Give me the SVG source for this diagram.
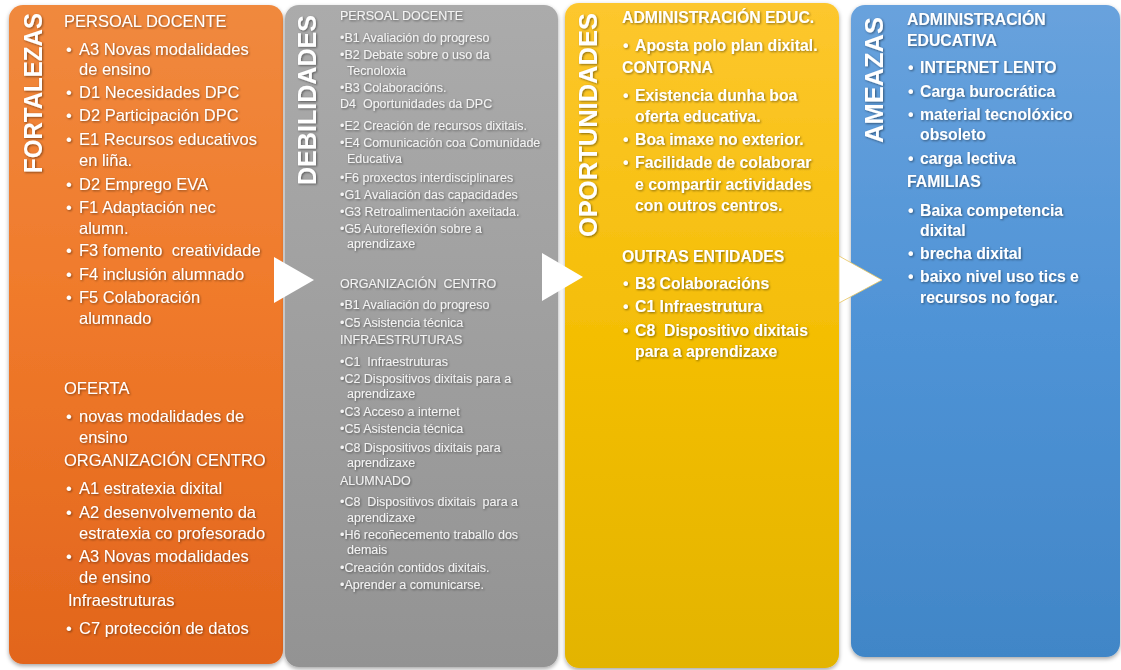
<svg xmlns="http://www.w3.org/2000/svg" width="1121" height="670" viewBox="0 0 1121 670">
<defs>
<linearGradient id="gOrange" x1="0" y1="0" x2="0" y2="1"><stop offset="0" stop-color="#F0893E"/><stop offset="0.45" stop-color="#F07A2B"/><stop offset="1" stop-color="#E2651C"/></linearGradient>
<linearGradient id="gGrey" x1="0" y1="0" x2="0" y2="1"><stop offset="0" stop-color="#ABABAB"/><stop offset="1" stop-color="#939393"/></linearGradient>
<linearGradient id="gYellow" x1="0" y1="0" x2="0" y2="1"><stop offset="0" stop-color="#FDC72E"/><stop offset="0.5" stop-color="#F4BE05"/><stop offset="1" stop-color="#E3B401"/></linearGradient>
<linearGradient id="gBlue" x1="0" y1="0" x2="0" y2="1"><stop offset="0" stop-color="#68A2DD"/><stop offset="0.5" stop-color="#4F93D6"/><stop offset="1" stop-color="#4186C7"/></linearGradient>
<filter id="boxShadow" x="-5%" y="-5%" width="110%" height="110%"><feDropShadow dx="0" dy="2" stdDeviation="2" flood-color="#000" flood-opacity="0.35"/></filter>
<filter id="txtShadow" x="-5%" y="-5%" width="110%" height="110%"><feDropShadow dx="1" dy="1" stdDeviation="0.9" flood-color="#000" flood-opacity="0.45"/></filter>
<style>
.box{filter:url(#boxShadow)}
.t{font-family:"Liberation Sans",Arial,sans-serif;fill:#fff}
.title{font-size:26px;font-weight:bold}
.c1{font-size:16.5px}
.c2{font-size:12.5px;fill:#f3f3f3}
.c34{font-size:15.8px;font-weight:bold}
.sh{filter:url(#txtShadow)}
.arrow{fill:#fff}
</style>
</defs>

<g id="fortalezas">
<rect class="box" x="9" y="5" width="274" height="659" rx="14" fill="url(#gOrange)"/>
<g class="sh">
<text class="t title" transform="translate(42,173) rotate(-90)" textLength="160" lengthAdjust="spacingAndGlyphs">FORTALEZAS</text>
<g class="t c1">
<text x="64" y="27">PERSOAL DOCENTE</text>
<text x="66" y="55">•</text><text x="79" y="55">A3 Novas modalidades</text>
<text x="79" y="75">de ensino</text>
<text x="66" y="98">•</text><text x="79" y="98">D1 Necesidades DPC</text>
<text x="66" y="121">•</text><text x="79" y="121">D2 Participación DPC</text>
<text x="66" y="145">•</text><text x="79" y="145">E1 Recursos educativos</text>
<text x="79" y="166">en liña.</text>
<text x="66" y="190">•</text><text x="79" y="190">D2 Emprego EVA</text>
<text x="66" y="213">•</text><text x="79" y="213">F1 Adaptación nec</text>
<text x="79" y="234">alumn.</text>
<text x="66" y="256">•</text><text x="79" y="256" xml:space="preserve">F3 fomento  creatividade</text>
<text x="66" y="280">•</text><text x="79" y="280">F4 inclusión alumnado</text>
<text x="66" y="303">•</text><text x="79" y="303">F5 Colaboración</text>
<text x="79" y="324">alumnado</text>
<text x="64" y="394">OFERTA</text>
<text x="66" y="422">•</text><text x="79" y="422">novas modalidades de</text>
<text x="79" y="443">ensino</text>
<text x="64" y="466">ORGANIZACIÓN CENTRO</text>
<text x="66" y="494">•</text><text x="79" y="494">A1 estratexia dixital</text>
<text x="66" y="518">•</text><text x="79" y="518">A2 desenvolvemento da</text>
<text x="79" y="539">estratexia co profesorado</text>
<text x="66" y="562">•</text><text x="79" y="562">A3 Novas modalidades</text>
<text x="79" y="583">de ensino</text>
<text x="68" y="606">Infraestruturas</text>
<text x="66" y="634">•</text><text x="79" y="634">C7 protección de datos</text>
</g>
</g>
</g>

<g id="debilidades">
<rect class="box" x="285" y="5" width="273" height="662" rx="14" fill="url(#gGrey)"/>
<g class="sh">
<text class="t title" transform="translate(316,185) rotate(-90)" textLength="170" lengthAdjust="spacingAndGlyphs" style="font-size:25px">DEBILIDADES</text>
<g class="t c2">
<text x="340" y="20">PERSOAL DOCENTE</text>
<text x="340" y="42">•B1 Avaliación do progreso</text>
<text x="340" y="59">•B2 Debate sobre o uso da</text>
<text x="347" y="75">Tecnoloxia</text>
<text x="340" y="92">•B3 Colaboracións.</text>
<text x="340" y="108" xml:space="preserve">D4  Oportunidades da DPC</text>
<text x="340" y="130">•E2 Creación de recursos dixitais.</text>
<text x="340" y="147">•E4 Comunicación coa Comunidade</text>
<text x="347" y="163">Educativa</text>
<text x="340" y="182">•F6 proxectos interdisciplinares</text>
<text x="340" y="199">•G1 Avaliación das capacidades</text>
<text x="340" y="216">•G3 Retroalimentación axeitada.</text>
<text x="340" y="233">•G5 Autoreflexión sobre a</text>
<text x="347" y="248">aprendizaxe</text>
<text x="340" y="288" xml:space="preserve">ORGANIZACIÓN  CENTRO</text>
<text x="340" y="309">•B1 Avaliación do progreso</text>
<text x="340" y="327">•C5 Asistencia técnica</text>
<text x="340" y="344">INFRAESTRUTURAS</text>
<text x="340" y="366" xml:space="preserve">•C1  Infraestruturas</text>
<text x="340" y="383">•C2 Dispositivos dixitais para a</text>
<text x="347" y="398">aprendizaxe</text>
<text x="340" y="416">•C3 Acceso a internet</text>
<text x="340" y="433">•C5 Asistencia técnica</text>
<text x="340" y="452">•C8 Dispositivos dixitais para</text>
<text x="347" y="467">aprendizaxe</text>
<text x="340" y="485">ALUMNADO</text>
<text x="340" y="506" xml:space="preserve">•C8  Dispositivos dixitais  para a</text>
<text x="347" y="522">aprendizaxe</text>
<text x="340" y="539">•H6 recoñecemento traballo dos</text>
<text x="347" y="554">demais</text>
<text x="340" y="572">•Creación contidos dixitais.</text>
<text x="340" y="589">•Aprender a comunicarse.</text>
</g>
</g>
</g>

<g id="oportunidades">
<rect class="box" x="565" y="3" width="274" height="665" rx="14" fill="url(#gYellow)"/>
<g class="sh">
<text class="t title" transform="translate(597,237) rotate(-90)" textLength="224" lengthAdjust="spacingAndGlyphs">OPORTUNIDADES</text>
<g class="t c34">
<text x="622" y="23">ADMINISTRACIÓN EDUC.</text>
<text x="623" y="51">•</text><text x="635" y="51">Aposta polo plan dixital.</text>
<text x="622" y="73">CONTORNA</text>
<text x="623" y="101">•</text><text x="635" y="101">Existencia dunha boa</text>
<text x="635" y="122">oferta educativa.</text>
<text x="623" y="145">•</text><text x="635" y="145">Boa imaxe no exterior.</text>
<text x="623" y="168">•</text><text x="635" y="168">Facilidade de colaborar</text>
<text x="635" y="190">e compartir actividades</text>
<text x="635" y="211">con outros centros.</text>
<text x="622" y="262">OUTRAS ENTIDADES</text>
<text x="623" y="289">•</text><text x="635" y="289">B3 Colaboracións</text>
<text x="623" y="312">•</text><text x="635" y="312">C1 Infraestrutura</text>
<text x="623" y="336">•</text><text x="635" y="336" xml:space="preserve">C8  Dispositivo dixitais</text>
<text x="635" y="357">para a aprendizaxe</text>
</g>
</g>
</g>

<g id="ameazas">
<rect class="box" x="851" y="5" width="269" height="652" rx="14" fill="url(#gBlue)"/>
<g class="sh">
<text class="t title" transform="translate(883,143) rotate(-90)" textLength="126" lengthAdjust="spacingAndGlyphs">AMEAZAS</text>
<g class="t c34">
<text x="907" y="25">ADMINISTRACIÓN</text>
<text x="907" y="46">EDUCATIVA</text>
<text x="908" y="73">•</text><text x="920" y="73">INTERNET LENTO</text>
<text x="908" y="97">•</text><text x="920" y="97">Carga burocrática</text>
<text x="908" y="120">•</text><text x="920" y="120">material tecnolóxico</text>
<text x="920" y="140">obsoleto</text>
<text x="908" y="164">•</text><text x="920" y="164">carga lectiva</text>
<text x="907" y="187">FAMILIAS</text>
<text x="908" y="216">•</text><text x="920" y="216">Baixa competencia</text>
<text x="920" y="236">dixital</text>
<text x="908" y="259">•</text><text x="920" y="259">brecha dixital</text>
<text x="908" y="282">•</text><text x="920" y="282">baixo nivel uso tics e</text>
<text x="920" y="303">recursos no fogar.</text>
</g>
</g>
</g>

<g id="connectors">
<polygon class="arrow" points="274,257 314,280 274,303"/>
<polygon class="arrow" points="542,253 583,277 542,301"/>
<polygon class="arrow" points="839,256 882,280 839,303" stroke="#E9C45C" stroke-width="0.8"/>
</g>
</svg>
